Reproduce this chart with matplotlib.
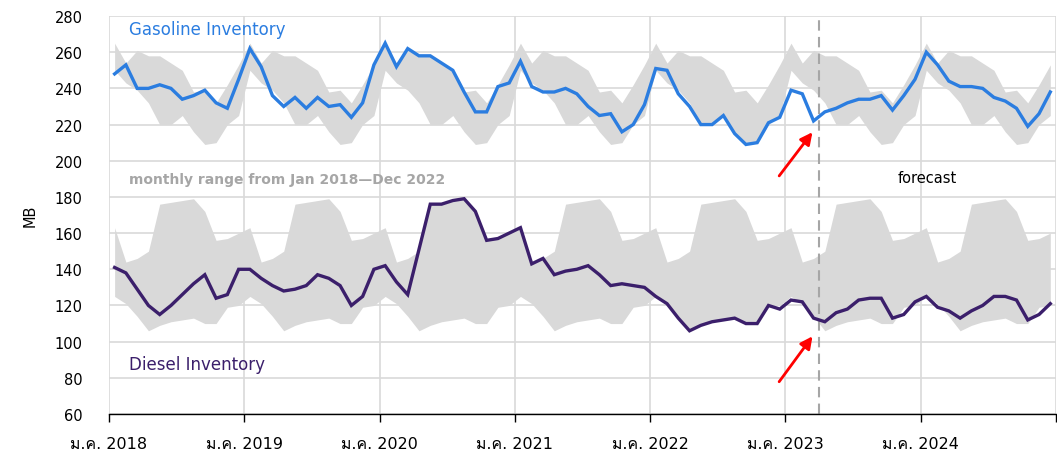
import numpy as np
import matplotlib
matplotlib.use("Agg")
import matplotlib.pyplot as plt
from matplotlib import font_manager
from matplotlib.ft2font import FT2Font

# monthly data Jan 2018 - Dec 2024
gasoline = [248, 253, 240, 240, 242, 240, 234, 236, 239, 232, 229, 245,
            262, 252, 236, 230, 235, 229, 235, 230, 231, 224, 232, 253,
            265, 252, 262, 258, 258, 254, 250, 238, 227, 227, 241, 243,
            255, 241, 238, 238, 240, 237, 230, 225, 226, 216, 220, 231,
            251, 250, 237, 230, 220, 220, 225, 215, 209, 210, 221, 224,
            239, 237, 222, 227, 229, 232, 234, 234, 236, 228, 236, 245,
            260, 253, 244, 241, 241, 240, 235, 233, 229, 219, 226, 238]
diesel = [141, 138, 129, 120, 115, 120, 126, 132, 137, 124, 126, 140,
          140, 135, 131, 128, 129, 131, 137, 135, 131, 120, 125, 140,
          142, 133, 126, 151, 176, 176, 178, 179, 172, 156, 157, 160,
          163, 143, 146, 137, 139, 140, 142, 137, 131, 132, 131, 130,
          125, 121, 113, 106, 109, 111, 112, 113, 110, 110, 120, 118,
          123, 122, 113, 111, 116, 118, 123, 124, 124, 113, 115, 122,
          125, 119, 117, 113, 117, 120, 125, 125, 123, 112, 115, 121]

# monthly range Jan 2018 - Dec 2022 (Jan..Dec)
gas_hi = [265, 254, 261, 258, 258, 254, 250, 238, 239, 232, 242, 253]
gas_lo = [250, 243, 239, 232, 220, 220, 225, 216, 209, 210, 220, 225]
dsl_hi = [163, 144, 146, 150, 176, 177, 178, 179, 172, 156, 157, 160]
dsl_lo = [125, 121, 114, 106, 109, 111, 112, 113, 110, 110, 119, 120]

years = ["2018", "2019", "2020", "2021", "2022", "2023", "2024"]

# find a font that has Thai glyphs for the tick labels
thai = None
for f in font_manager.fontManager.ttflist:
    try:
        if 0x0E21 in FT2Font(f.fname).get_charmap():
            thai = f.name
            break
    except Exception:
        pass
fams = ["DejaVu Sans"] + ([thai] if thai else [])
plt.rcParams["font.family"] = fams

n = len(gasoline)
x = np.arange(n) + 0.5
nyr = n // 12

fig = plt.figure(figsize=(10.57, 4.6), dpi=100)
ax = fig.add_axes([0.1031, 0.0978, 0.8959, 0.8652])

ax.fill_between(x, np.tile(gas_lo, nyr), np.tile(gas_hi, nyr), color="#d9d9d9", lw=0, zorder=1)
ax.fill_between(x, np.tile(dsl_lo, nyr), np.tile(dsl_hi, nyr), color="#d9d9d9", lw=0, zorder=1)
ax.plot(x, gasoline, color="#2b7de0", lw=2.4, zorder=3, solid_joinstyle="miter")
ax.plot(x, diesel, color="#3b1f6b", lw=2.4, zorder=3, solid_joinstyle="miter")

ax.axvline(63, color="#a6a6a6", lw=1.5, ls=(0, (5, 3)), zorder=2)

ax.set_xlim(0, n)
ax.set_ylim(60, 280)
ax.set_yticks(range(60, 281, 20))
ax.set_xticks(range(0, n + 1, 12))
ax.set_xticklabels(["ม.ค. " + y for y in years] + [""])
ax.grid(True, color="#d9d9d9", lw=1.2, zorder=0)
ax.set_axisbelow(True)
for s in ["top", "right", "left"]:
    ax.spines[s].set_visible(False)
ax.spines["bottom"].set_color("black")
ax.spines["bottom"].set_linewidth(1.0)
ax.tick_params(axis="y", length=0, pad=19, labelsize=10.5)
ax.tick_params(axis="x", length=6, width=1, pad=10, labelsize=11.5, direction="out")
ax.set_ylabel("MB", fontsize=10.5, labelpad=12)

ax.text(1.75, 272.8, "Gasoline Inventory", color="#2b7de0", fontsize=12, va="center", ha="left")
ax.text(1.75, 189.9, "monthly range from Jan 2018\u2014Dec 2022", color="#a6a6a6",
        fontsize=10, va="center", ha="left", fontweight="bold")
ax.text(1.75, 87.6, "Diesel Inventory", color="#3b1f6b", fontsize=12, va="center", ha="left")
ax.text(72.6, 191, "forecast", color="black", fontsize=10.5, va="center", ha="center")

for y0, y1 in [(190.4, 217), (76.6, 104.2)]:
    ax.annotate("", xy=(62.55, y1), xytext=(59.3, y0),
                arrowprops=dict(arrowstyle="-|>", color="red", lw=2, mutation_scale=18))

fig.savefig("out.png", dpi=100)
